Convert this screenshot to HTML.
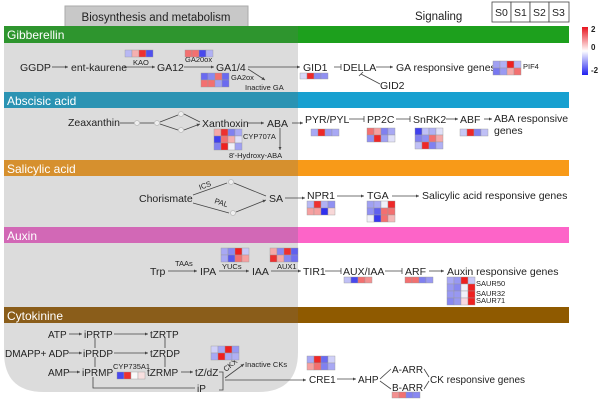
<!DOCTYPE html>
<html><head><meta charset="utf-8"><style>
html,body{margin:0;padding:0;background:#fff}
svg{display:block;font-family:"Liberation Sans",sans-serif}
.t{font-size:10.5px;fill:#222}
.s{font-size:7.5px;fill:#222}
.h{font-size:12px;fill:#fff}
.l{stroke:#444;stroke-width:0.8;fill:none}
.g rect{stroke:#999;stroke-width:0.4}
</style></head><body>
<svg width="600" height="402" viewBox="0 0 600 402">
<defs>
<marker id="a" markerWidth="5" markerHeight="5" refX="4" refY="2.5" orient="auto"><path d="M0,0.5 L4,2.5 L0,4.5z" fill="#444"/></marker>
<linearGradient id="cb" x1="0" y1="0" x2="0" y2="1"><stop offset="0" stop-color="#e8141e"/><stop offset="0.5" stop-color="#fff"/><stop offset="1" stop-color="#2020f0"/></linearGradient>
</defs>
<path d="M4,26 H298 V352 Q298,392 258,392 H44 Q4,392 4,352 Z" fill="#dcdcdc"/>
<rect x="65" y="6" width="183" height="21" fill="#c8c8c8" stroke="#aaa"/>
<text x="156" y="21" text-anchor="middle" style="font-size:11.5px" fill="#222">Biosynthesis and metabolism</text>
<text x="415" y="20" class="t" style="font-size:11.5px">Signaling</text>
<g fill="#fff" stroke="#444" stroke-width="0.8"><rect x="492" y="2" width="19" height="20"/><rect x="511" y="2" width="19" height="20"/><rect x="530" y="2" width="19" height="20"/><rect x="549" y="2" width="20" height="20"/></g>
<g class="t" style="font-size:10.5px"><text x="495" y="16">S0</text><text x="514" y="16">S1</text><text x="533" y="16">S2</text><text x="552" y="16">S3</text></g>
<rect x="582" y="27" width="6" height="48" fill="url(#cb)"/>
<g style="font-size:8px;font-weight:bold" fill="#222"><text x="591" y="32">2</text><text x="591" y="50">0</text><text x="591" y="73">-2</text></g>
<rect x="4" y="26" width="294" height="17" fill="#2e952e"/><rect x="298" y="26" width="271" height="17" fill="#1da01d"/>
<rect x="4" y="92" width="294" height="16" fill="#2b93b3"/><rect x="298" y="92" width="271" height="16" fill="#17a0d0"/>
<rect x="4" y="160" width="294" height="16" fill="#d6902e"/><rect x="298" y="160" width="271" height="16" fill="#f89a18"/>
<rect x="4" y="227" width="294" height="16" fill="#d268b6"/><rect x="298" y="227" width="271" height="16" fill="#fd64c8"/>
<rect x="4" y="307" width="294" height="16" fill="#8a5d1a"/><rect x="298" y="307" width="271" height="16" fill="#8f5a00"/>
<text x="7" y="39" class="h">Gibberellin</text>
<text x="7" y="105" class="h">Abscisic acid</text>
<text x="7" y="173" class="h">Salicylic  acid</text>
<text x="7" y="240" class="h">Auxin</text>
<text x="7" y="320" class="h">Cytokinine</text>

<g class="t"><text x="20" y="71">GGDP</text><text x="71" y="71">ent-kaurene</text><text x="157" y="71">GA12</text><text x="216" y="71">GA1/4</text>
<text x="303" y="71">GID1</text><text x="343" y="71">DELLA</text><text x="380" y="89">GID2</text><text x="396" y="71">GA responsive genes</text></g>
<g class="s"><text x="133" y="65">KAO</text><text x="185" y="62">GA20ox</text><text x="231" y="80">GA2ox</text><text x="245" y="90">Inactive GA</text><text x="523" y="69">PIF4</text></g>
<g class="l"><path d="M52,67H68" marker-end="url(#a)"/><path d="M124,67H155" marker-end="url(#a)"/><path d="M184,67H214" marker-end="url(#a)"/>
<path d="M248,67H300" marker-end="url(#a)"/><path d="M248,69L265,80" marker-end="url(#a)"/><path d="M334,67H341M341,64V70"/><path d="M376,67H393" marker-end="url(#a)"/><path d="M380,84L361,74M359,76L363,72"/></g>

<g class="t"><text x="68" y="126">Zeaxanthin</text><text x="202" y="127">Xanthoxin</text><text x="267" y="127">ABA</text>
<text x="305" y="123">PYR/PYL</text><text x="367" y="123">PP2C</text><text x="413" y="123">SnRK2</text><text x="460" y="123">ABF</text><text x="494" y="122">ABA responsive</text><text x="494" y="134">genes</text></g>
<g class="s"><text x="243" y="139">CYP707A</text><text x="229" y="158">8'-Hydroxy-ABA</text></g>
<g class="l"><path d="M120,123H134"/><circle cx="137" cy="123" r="2.5" fill="#eee" stroke="#bbb"/><path d="M140,123H154"/><circle cx="157" cy="123" r="2.5" fill="#eee" stroke="#bbb"/>
<path d="M160,122L178,115M160,124L178,130"/><circle cx="181" cy="114" r="2.5" fill="#eee" stroke="#bbb"/><circle cx="181" cy="130" r="2.5" fill="#eee" stroke="#bbb"/>
<path d="M184,114L200,122M184,130L200,124" marker-end="url(#a)"/><path d="M248,123H264" marker-end="url(#a)"/><path d="M280,128V150" marker-end="url(#a)"/>
<path d="M292,123H303" marker-end="url(#a)"/><path d="M349,119H364M364,116V122"/><path d="M396,119H410M410,116V122"/><path d="M446,119H458" marker-end="url(#a)"/><path d="M484,119H492" marker-end="url(#a)"/></g>

<g class="t"><text x="139" y="202">Chorismate</text><text x="269" y="202">SA</text><text x="307" y="199">NPR1</text><text x="367" y="199">TGA</text><text x="422" y="199">Salicylic acid responsive genes</text></g>
<g class="s"><text x="200" y="190" transform="rotate(-20 200 190)">ICS</text><text x="214" y="203" transform="rotate(18 214 203)">PAL</text></g>
<g class="l"><path d="M193,195L227,183M193,203L229,213"/><circle cx="231" cy="182" r="2.5" fill="#eee" stroke="#bbb"/><circle cx="233" cy="213" r="2.5" fill="#eee" stroke="#bbb"/>
<path d="M234,183L266,196M236,212L266,200" marker-end="url(#a)"/><path d="M285,198H305" marker-end="url(#a)"/><path d="M337,196H364" marker-end="url(#a)"/><path d="M392,196H419" marker-end="url(#a)"/></g>

<g class="t"><text x="150" y="275">Trp</text><text x="200" y="275">IPA</text><text x="252" y="275">IAA</text><text x="303" y="275">TIR1</text><text x="343" y="275">AUX/IAA</text><text x="405" y="275">ARF</text><text x="447" y="275">Auxin responsive genes</text></g>
<g class="s"><text x="175" y="266">TAAs</text><text x="222" y="269">YUCs</text><text x="277" y="269">AUX1</text><text x="476" y="286">SAUR50</text><text x="476" y="296">SAUR32</text><text x="476" y="303">SAUR71</text></g>
<g class="l"><path d="M168,271H197" marker-end="url(#a)"/><path d="M219,271H249" marker-end="url(#a)"/><path d="M271,271H301" marker-end="url(#a)"/><path d="M325,271H341M341,268V274"/><path d="M385,271H402M402,268V274"/><path d="M429,271H444" marker-end="url(#a)"/></g>

<g class="t" style="font-size:10px"><text x="48" y="338">ATP</text><text x="84" y="338">iPRTP</text><text x="150" y="338">tZRTP</text>
<text x="5" y="357">DMAPP+ ADP</text><text x="83" y="357">iPRDP</text><text x="150" y="357">tZRDP</text>
<text x="48" y="376">AMP</text><text x="82" y="376">iPRMP</text><text x="147" y="376">tZRMP</text><text x="195" y="376">tZ/dZ</text><text x="197" y="392">iP</text>
<text x="309" y="383">CRE1</text><text x="358" y="383">AHP</text><text x="392" y="373">A-ARR</text><text x="392" y="391">B-ARR</text><text x="430" y="383">CK responsive genes</text></g>
<g class="s"><text x="113" y="369">CYP735A1</text><text x="245" y="367">Inactive CKs</text><text x="226" y="372" transform="rotate(-40 226 372)">CKX</text></g>
<g class="l"><path d="M69,334H82" marker-end="url(#a)"/><path d="M114,334H148" marker-end="url(#a)"/><path d="M69,353H82" marker-end="url(#a)"/><path d="M114,353H148" marker-end="url(#a)"/>
<path d="M69,372H80" marker-end="url(#a)"/><path d="M181,372H193" marker-end="url(#a)"/><path d="M95,338V348M95,357V367M165,338V348M165,357V367"/>
<path d="M93,377V388H195" /><path d="M219,372H223V390H219"/><path d="M225,378L244,364" marker-end="url(#a)"/><path d="M225,380H306" marker-end="url(#a)"/>
<path d="M337,379H356" marker-end="url(#a)"/><path d="M380,379L391,369M380,381L391,389"/><path d="M424,369L429,377M424,389L429,381"/></g>

<g class="g">
<rect x="125" y="50" width="7" height="7" fill="#b8b8f4"/><rect x="132" y="50" width="7" height="7" fill="#f5b0b0"/><rect x="139" y="50" width="7" height="7" fill="#ee3030"/><rect x="146" y="50" width="7" height="7" fill="#5050ee"/>
<rect x="185" y="50" width="7" height="7" fill="#f37070"/><rect x="192" y="50" width="7" height="7" fill="#f37070"/><rect x="199" y="50" width="7" height="7" fill="#4848ee"/><rect x="206" y="50" width="7" height="7" fill="#b0b0f4"/>
<rect x="201" y="73" width="7" height="7" fill="#6a6af0"/><rect x="208" y="73" width="7" height="7" fill="#8888f2"/><rect x="215" y="73" width="7" height="7" fill="#f37070"/><rect x="222" y="73" width="7" height="7" fill="#6a6af0"/>
<rect x="201" y="80" width="7" height="7" fill="#f37070"/><rect x="208" y="80" width="7" height="7" fill="#f37070"/><rect x="215" y="80" width="7" height="7" fill="#a0a0f2"/><rect x="222" y="80" width="7" height="7" fill="#6a6af0"/>
<rect x="300" y="73" width="7" height="6" fill="#d8d8f8"/><rect x="307" y="73" width="7" height="6" fill="#ee2828"/><rect x="314" y="73" width="7" height="6" fill="#8888f2"/><rect x="321" y="73" width="7" height="6" fill="#9090f2"/>
<rect x="493" y="61" width="7" height="7" fill="#a0a0f2"/><rect x="500" y="61" width="7" height="7" fill="#b0b0f4"/><rect x="507" y="61" width="7" height="7" fill="#ee2020"/><rect x="514" y="61" width="7" height="7" fill="#b8b8f4"/>
<rect x="493" y="68" width="7" height="7" fill="#7878f0"/><rect x="500" y="68" width="7" height="7" fill="#9a9af2"/><rect x="507" y="68" width="7" height="7" fill="#f5a8a8"/><rect x="514" y="68" width="7" height="7" fill="#f37070"/>
<rect x="214" y="129" width="7" height="7" fill="#f5a8a8"/><rect x="221" y="129" width="7" height="7" fill="#ee3030"/><rect x="228" y="129" width="7" height="7" fill="#8080f0"/><rect x="235" y="129" width="7" height="7" fill="#a8a8f4"/>
<rect x="214" y="136" width="7" height="7" fill="#4040ee"/><rect x="221" y="136" width="7" height="7" fill="#f37070"/><rect x="228" y="136" width="7" height="7" fill="#f5b0b0"/><rect x="235" y="136" width="7" height="7" fill="#e0e0f8"/>
<rect x="214" y="143" width="7" height="7" fill="#8080f0"/><rect x="221" y="143" width="7" height="7" fill="#ee2020"/><rect x="228" y="143" width="7" height="7" fill="#f0f0f8"/><rect x="235" y="143" width="7" height="7" fill="#a0a0f2"/>
<rect x="311" y="129" width="7" height="7" fill="#a8a8f4"/><rect x="318" y="129" width="7" height="7" fill="#ee2828"/><rect x="325" y="129" width="7" height="7" fill="#9a9af2"/><rect x="332" y="129" width="7" height="7" fill="#a8a8f4"/>
<rect x="367" y="128" width="7" height="7" fill="#f37070"/><rect x="374" y="128" width="7" height="7" fill="#f5a0a0"/><rect x="381" y="128" width="7" height="7" fill="#8080f0"/><rect x="388" y="128" width="7" height="7" fill="#a8a8f4"/>
<rect x="367" y="135" width="7" height="7" fill="#9090f2"/><rect x="374" y="135" width="7" height="7" fill="#ee2828"/><rect x="381" y="135" width="7" height="7" fill="#a0a0f2"/><rect x="388" y="135" width="7" height="7" fill="#e0e0f8"/>
<rect x="415" y="128" width="7" height="7" fill="#4040ee"/><rect x="422" y="128" width="7" height="7" fill="#c0c0f6"/><rect x="429" y="128" width="7" height="7" fill="#b0b0f4"/><rect x="436" y="128" width="7" height="7" fill="#e0e0f8"/>
<rect x="415" y="135" width="7" height="7" fill="#8080f0"/><rect x="422" y="135" width="7" height="7" fill="#9090f2"/><rect x="429" y="135" width="7" height="7" fill="#f37070"/><rect x="436" y="135" width="7" height="7" fill="#f5a8a8"/>
<rect x="415" y="142" width="7" height="7" fill="#c0c0f6"/><rect x="422" y="142" width="7" height="7" fill="#ee2828"/><rect x="429" y="142" width="7" height="7" fill="#8080f0"/><rect x="436" y="142" width="7" height="7" fill="#b0b0f4"/>
<rect x="460" y="129" width="7" height="7" fill="#c8c8f6"/><rect x="467" y="129" width="7" height="7" fill="#ee2828"/><rect x="474" y="129" width="7" height="7" fill="#8080f0"/><rect x="481" y="129" width="7" height="7" fill="#c0c0f6"/>
<rect x="307" y="201" width="7" height="7" fill="#b8b8f4"/><rect x="314" y="201" width="7" height="7" fill="#ee3030"/><rect x="321" y="201" width="7" height="7" fill="#b0b0f4"/><rect x="328" y="201" width="7" height="7" fill="#9090f2"/>
<rect x="307" y="208" width="7" height="7" fill="#f5a0a0"/><rect x="314" y="208" width="7" height="7" fill="#f5a0a0"/><rect x="321" y="208" width="7" height="7" fill="#3030ee"/><rect x="328" y="208" width="7" height="7" fill="#f8d8d8"/>
<rect x="367" y="201" width="7" height="7" fill="#a0a0f2"/><rect x="374" y="201" width="7" height="7" fill="#a8a8f4"/><rect x="381" y="201" width="7" height="7" fill="#f0f0f8"/><rect x="388" y="201" width="7" height="7" fill="#ee2828"/>
<rect x="367" y="208" width="7" height="7" fill="#9090f2"/><rect x="374" y="208" width="7" height="7" fill="#6060ee"/><rect x="381" y="208" width="7" height="7" fill="#f37070"/><rect x="388" y="208" width="7" height="7" fill="#f37070"/>
<rect x="367" y="215" width="7" height="7" fill="#f0f0f8"/><rect x="374" y="215" width="7" height="7" fill="#3838ee"/><rect x="381" y="215" width="7" height="7" fill="#f37070"/><rect x="388" y="215" width="7" height="7" fill="#f5b8b8"/>
<rect x="221" y="248" width="7" height="7" fill="#a8a8f4"/><rect x="228" y="248" width="7" height="7" fill="#8888f2"/><rect x="235" y="248" width="7" height="7" fill="#ee2020"/><rect x="242" y="248" width="7" height="7" fill="#c8c8f6"/>
<rect x="221" y="255" width="7" height="7" fill="#a8a8f4"/><rect x="228" y="255" width="7" height="7" fill="#5858ee"/><rect x="235" y="255" width="7" height="7" fill="#f37070"/><rect x="242" y="255" width="7" height="7" fill="#f5a0a0"/>
<rect x="270" y="248" width="7" height="7" fill="#f5a8a8"/><rect x="277" y="248" width="7" height="7" fill="#8888f2"/><rect x="284" y="248" width="7" height="7" fill="#ee3030"/><rect x="291" y="248" width="7" height="7" fill="#6060ee"/>
<rect x="270" y="255" width="7" height="7" fill="#ee3030"/><rect x="277" y="255" width="7" height="7" fill="#f5a8a8"/><rect x="284" y="255" width="7" height="7" fill="#8888f2"/><rect x="291" y="255" width="7" height="7" fill="#7070f0"/>
<rect x="344" y="277" width="7" height="6" fill="#c0c0f6"/><rect x="351" y="277" width="7" height="6" fill="#4848ee"/><rect x="358" y="277" width="7" height="6" fill="#f37070"/><rect x="365" y="277" width="7" height="6" fill="#f39090"/>
<rect x="405" y="277" width="7" height="6" fill="#f37070"/><rect x="412" y="277" width="7" height="6" fill="#f37070"/><rect x="419" y="277" width="7" height="6" fill="#8080f0"/><rect x="426" y="277" width="7" height="6" fill="#9898f2"/>
<rect x="447" y="277" width="7" height="7" fill="#a8a8f4"/><rect x="454" y="277" width="7" height="7" fill="#9898f2"/><rect x="461" y="277" width="7" height="7" fill="#ee2020"/><rect x="468" y="277" width="7" height="7" fill="#c8c8f6"/>
<rect x="447" y="284" width="7" height="7" fill="#9898f2"/><rect x="454" y="284" width="7" height="7" fill="#8888f2"/><rect x="461" y="284" width="7" height="7" fill="#f0f0f8"/><rect x="468" y="284" width="7" height="7" fill="#ee2020"/>
<rect x="447" y="291" width="7" height="7" fill="#9898f2"/><rect x="454" y="291" width="7" height="7" fill="#9898f2"/><rect x="461" y="291" width="7" height="7" fill="#f0f0f8"/><rect x="468" y="291" width="7" height="7" fill="#ee2020"/>
<rect x="447" y="298" width="7" height="7" fill="#8888f2"/><rect x="454" y="298" width="7" height="7" fill="#9898f2"/><rect x="461" y="298" width="7" height="7" fill="#f8d8e0"/><rect x="468" y="298" width="7" height="7" fill="#ee2020"/>
<rect x="117" y="372" width="7" height="7" fill="#4848ee"/><rect x="124" y="372" width="7" height="7" fill="#ee3030"/><rect x="131" y="372" width="7" height="7" fill="#fafafa"/><rect x="138" y="372" width="7" height="7" fill="#f8e0e0"/>
<rect x="211" y="346" width="7" height="7" fill="#d0d0f8"/><rect x="218" y="346" width="7" height="7" fill="#a8a8f4"/><rect x="225" y="346" width="7" height="7" fill="#ee2020"/><rect x="232" y="346" width="7" height="7" fill="#9898f2"/>
<rect x="211" y="353" width="7" height="7" fill="#a8a8f4"/><rect x="218" y="353" width="7" height="7" fill="#ee2020"/><rect x="225" y="353" width="7" height="7" fill="#a8a8f4"/><rect x="232" y="353" width="7" height="7" fill="#b0b0f4"/>
<rect x="307" y="356" width="7" height="7" fill="#a8a8f4"/><rect x="314" y="356" width="7" height="7" fill="#ee2828"/><rect x="321" y="356" width="7" height="7" fill="#6a6af0"/><rect x="328" y="356" width="7" height="7" fill="#d0d0f8"/>
<rect x="307" y="363" width="7" height="7" fill="#f5a0a0"/><rect x="314" y="363" width="7" height="7" fill="#f37070"/><rect x="321" y="363" width="7" height="7" fill="#8080f0"/><rect x="328" y="363" width="7" height="7" fill="#a8a8f4"/>
<rect x="392" y="392" width="7" height="6" fill="#f39090"/><rect x="399" y="392" width="7" height="6" fill="#f37070"/><rect x="406" y="392" width="7" height="6" fill="#8080f0"/><rect x="413" y="392" width="7" height="6" fill="#8888f2"/>
</g>
</svg>
</body></html>
